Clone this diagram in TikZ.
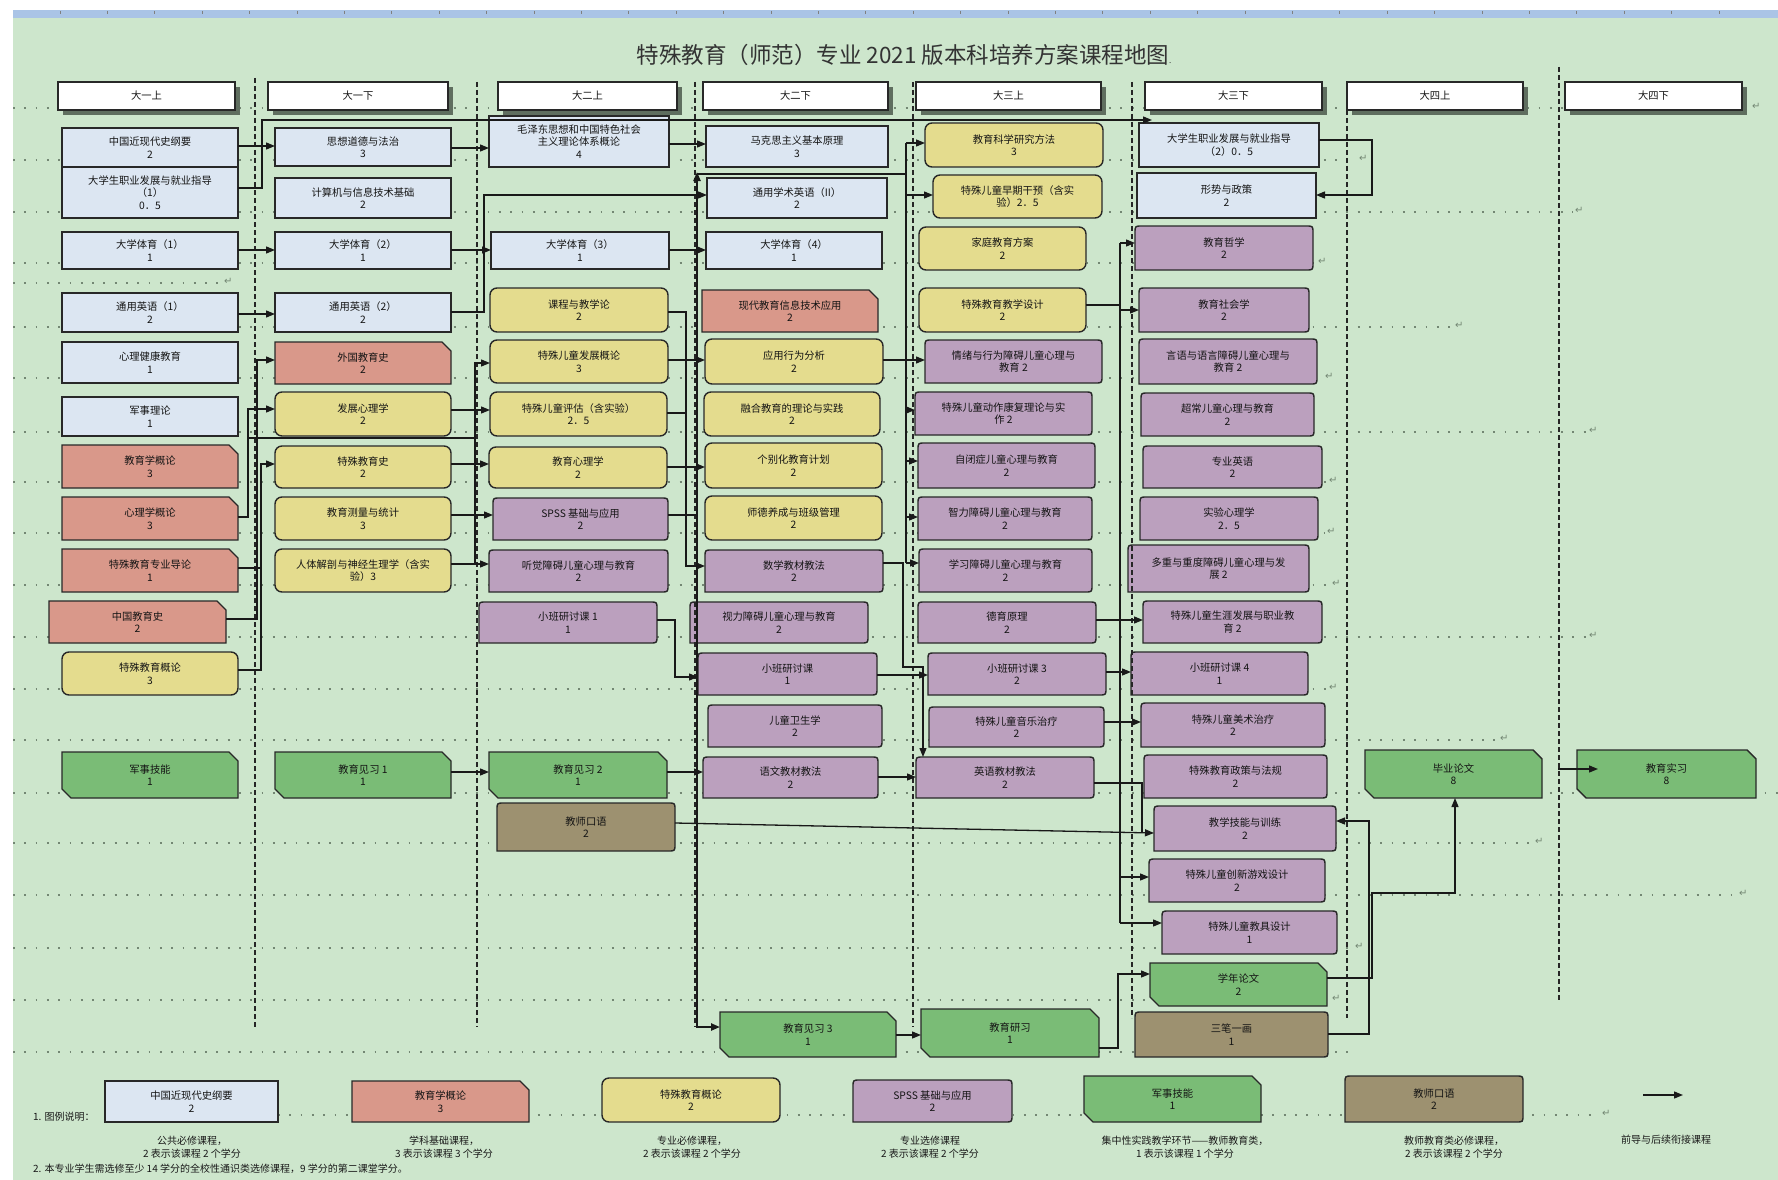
\documentclass[tikz,border=0pt]{standalone}
\usepackage{fontspec}
\setmainfont{Noto Sans CJK SC}
\newfontfamily\djv{DejaVu Sans}
\usetikzlibrary{arrows.meta}
\definecolor{bgc}{RGB}{205,230,204}
\definecolor{rulerc}{RGB}{170,196,230}
\definecolor{cblue}{RGB}{220,230,242}
\definecolor{cred}{RGB}{217,152,138}
\definecolor{cyellow}{RGB}{228,220,142}
\definecolor{cpurple}{RGB}{187,160,190}
\definecolor{cgreen}{RGB}{122,188,118}
\definecolor{cbrown}{RGB}{157,145,112}
\definecolor{edgec}{RGB}{40,40,40}
\definecolor{dotc}{RGB}{115,135,115}
\definecolor{shc}{RGB}{95,110,95}
\tikzset{
 bx/.style={draw=edgec, line width=1.4pt},
 txt/.style={inner sep=1pt, outer sep=0pt, align=center, font=\fontsize{10.3}{12.5}\selectfont, text=black!92},
 arr/.style={draw=black!90, line width=1.3pt, -{Triangle[length=9pt,width=7pt]}},
 ln/.style={draw=black!90, line width=1.3pt},
 dotl/.style={draw=dotc, line width=1.8pt, dash pattern=on 1.8pt off 9.5pt},
 sepl/.style={draw=black!85, line width=1.8pt, dash pattern=on 5pt off 3pt},
 pm/.style={font=\djv\fontsize{10}{10}\selectfont, text=dotc, inner sep=0pt},
 captxt/.style={font=\fontsize{10}{13}\selectfont, align=center, inner sep=0pt, text=black!90},
}
\newcommand\shpblue[4]{\draw[bx,fill=cblue] (#1,#2) rectangle (#3,#4);}
\newcommand\shpred[4]{\draw[bx,fill=cred] (#1,#2) -- ({#3-9},#2) -- (#3,{#2+9}) -- (#3,#4) -- (#1,#4) -- cycle;}
\newcommand\shpgreen[4]{\draw[bx,fill=cgreen] (#1,#2) -- ({#3-9},#2) -- (#3,{#2+9}) -- (#3,#4) -- ({#1+9},#4) -- (#1,{#4-9}) -- cycle;}
\newcommand\shpyellow[4]{\draw[bx,fill=cyellow,rounded corners=7pt] (#1,#2) rectangle (#3,#4);}
\newcommand\shppurple[4]{\draw[bx,fill=cpurple] (#1,#4) -- (#1,{#2+7}) .. controls (#1,#2) .. ({#1+7},#2) -- ({#3-7},#2) .. controls (#3,#2) .. (#3,{#2+7}) -- (#3,{#4-7}) .. controls (#3,#4) .. ({#3-7},#4) -- cycle;}
\newcommand\shpbrown[4]{\draw[bx,fill=cbrown] (#1,#4) -- (#1,{#2+7}) .. controls (#1,#2) .. ({#1+7},#2) -- ({#3-7},#2) .. controls (#3,#2) .. (#3,{#2+7}) -- (#3,{#4-7}) .. controls (#3,#4) .. ({#3-7},#4) -- cycle;}
\newcommand\course[7]{\csname shp#1\endcsname{#3}{#4}{#5}{#6}\node[txt,minimum width={#5pt-#3pt},minimum height={#6pt-#4pt}] (#2) at ({(#3+#5)/2},{(#4+#6)/2}) {#7};}
\newcommand\header[4]{\fill[shc] ({#2+5},87) rectangle ({#3+5},115); \draw[bx,fill=white] (#2,82) rectangle (#3,110); \node[txt] (#1) at ({(#2+#3)/2},96) {#4};}
\newcommand\dotrow[2]{\draw[dotl] (13,#1) -- (#2,#1); \node[pm, anchor=west] at ({#2+2},{#1-2}) {↵};}
\begin{document}
\begin{tikzpicture}[x=1pt,y=-1pt]
\useasboundingbox (0,0) rectangle (1778,1180);
\fill[white] (0,0) rectangle (1778,1180);
\fill[rulerc] (13,10) rectangle (1778,18);
\foreach \i in {0,...,35} \draw[black!50, line width=0.7pt] ({60+47.4*\i},11) -- ({60+47.4*\i},14.5);
\fill[bgc] (13,18) rectangle (1778,1180);

% title
\node[font=\fontsize{22.5}{26}\selectfont, text=black!80] (title) at (904,55) {特殊教育（师范）专业 2021 版本科培养方案课程地图{\fontsize{8}{8}\selectfont .}};

% dotted rows
\dotrow{108}{1750}
\dotrow{160}{1357}
\dotrow{212}{1573}
\dotrow{263}{1316}
\dotrow{283}{222}
\dotrow{327}{1453}
\dotrow{378}{1323}
\dotrow{432}{1587}
\dotrow{482}{1327}
\dotrow{533}{1325}
\dotrow{585}{1330}
\dotrow{637}{1587}
\dotrow{689}{1327}
\dotrow{740}{1498}
\draw[dotl] (13,793) -- (1778,793);
\dotrow{843}{1533}
\dotrow{895}{1737}
\dotrow{948}{1353}
\dotrow{1000}{1330}
\draw[dotl] (13,1052) -- (1350,1052);
\draw[dotl] (278,1115) -- (1600,1115);
\node[pm, anchor=west] at (1602,1113) {↵};

% headers
\header{h1}{58}{235}{大一上}
\header{h2}{268}{448}{大一下}
\header{h3}{498}{677}{大二上}
\header{h4}{703}{888}{大二下}
\header{h5}{916}{1101}{大三上}
\header{h6}{1145}{1322}{大三下}
\header{h7}{1347}{1523}{大四上}
\header{h8}{1565}{1742}{大四下}

% column 1
\course{blue}{c1a}{62}{128}{238}{167}{中国近现代史纲要\\2}
\course{blue}{c1b}{62}{167}{238}{218}{大学生职业发展与就业指导\\（1）\\0．5}
\course{blue}{c1c}{62}{232}{238}{269}{大学体育（1）\\1}
\course{blue}{c1d}{62}{293}{238}{332}{通用英语（1）\\2}
\course{blue}{c1e}{62}{342}{238}{383}{心理健康教育\\1}
\course{blue}{c1f}{62}{397}{238}{436}{军事理论\\1}
\course{red}{c1g}{62}{445}{238}{488}{教育学概论\\3}
\course{red}{c1h}{62}{497}{238}{540}{心理学概论\\3}
\course{red}{c1i}{62}{549}{238}{592}{特殊教育专业导论\\1}
\course{red}{c1j}{49}{601}{226}{643}{中国教育史\\2}
\course{yellow}{c1k}{62}{652}{238}{695}{特殊教育概论\\3}
\course{green}{c1l}{62}{752}{238}{798}{军事技能\\1}

% column 2
\course{blue}{c2a}{275}{128}{451}{166}{思想道德与法治\\3}
\course{blue}{c2b}{275}{178}{451}{218}{计算机与信息技术基础\\2}
\course{blue}{c2c}{275}{232}{451}{269}{大学体育（2）\\1}
\course{blue}{c2d}{275}{293}{451}{332}{通用英语（2）\\2}
\course{red}{c2e}{275}{342}{451}{384}{外国教育史\\2}
\course{yellow}{c2f}{275}{392}{451}{436}{发展心理学\\2}
\course{yellow}{c2g}{275}{446}{451}{488}{特殊教育史\\2}
\course{yellow}{c2h}{275}{497}{451}{540}{教育测量与统计\\3}
\course{yellow}{c2i}{275}{549}{451}{592}{人体解剖与神经生理学（含实\\验）3}
\course{green}{c2j}{275}{752}{451}{798}{教育见习 1\\1}

% column 3
\course{blue}{c3a}{489}{116}{669}{167}{毛泽东思想和中国特色社会\\主义理论体系概论\\4}
\course{blue}{c3b}{491}{232}{669}{269}{大学体育（3）\\1}
\course{yellow}{c3c}{490}{288}{668}{332}{课程与教学论\\2}
\course{yellow}{c3d}{490}{340}{668}{383}{特殊儿童发展概论\\3}
\course{yellow}{c3e}{490}{392}{667}{436}{特殊儿童评估（含实验）\\2．5}
\course{yellow}{c3f}{489}{447}{667}{488}{教育心理学\\2}
\course{purple}{c3g}{493}{498}{668}{540}{SPSS 基础与应用\\2}
\course{purple}{c3h}{489}{550}{668}{592}{听觉障碍儿童心理与教育\\2}
\course{purple}{c3i}{479}{602}{657}{643}{小班研讨课 1\\1}
\course{green}{c3j}{489}{752}{667}{798}{教育见习 2\\1}
\course{brown}{c3k}{497}{803}{675}{851}{教师口语\\2}

% column 4
\course{blue}{c4a}{706}{126}{888}{167}{马克思主义基本原理\\3}
\course{blue}{c4b}{707}{178}{887}{218}{通用学术英语（II）\\2}
\course{blue}{c4c}{706}{232}{882}{269}{大学体育（4）\\1}
\course{red}{c4d}{702}{290}{878}{332}{现代教育信息技术应用\\2}
\course{yellow}{c4e}{705}{339}{883}{384}{应用行为分析\\2}
\course{yellow}{c4f}{704}{392}{880}{436}{融合教育的理论与实践\\2}
\course{yellow}{c4g}{705}{443}{882}{488}{个别化教育计划\\2}
\course{yellow}{c4h}{705}{496}{882}{540}{师德养成与班级管理\\2}
\course{purple}{c4i}{705}{550}{883}{592}{数学教材教法\\2}
\course{purple}{c4j}{690}{602}{868}{643}{视力障碍儿童心理与教育\\2}
\course{purple}{c4k}{698}{653}{877}{695}{小班研讨课\\1}
\course{purple}{c4l}{708}{705}{882}{747}{儿童卫生学\\2}
\course{purple}{c4m}{703}{757}{878}{798}{语文教材教法\\2}
\course{green}{c4n}{720}{1012}{896}{1057}{教育见习 3\\1}

% column 5
\course{yellow}{c5a}{925}{123}{1103}{167}{教育科学研究方法\\3}
\course{yellow}{c5b}{933}{175}{1102}{218}{特殊儿童早期干预（含实\\验）2．5}
\course{yellow}{c5c}{919}{227}{1086}{270}{家庭教育方案\\2}
\course{yellow}{c5d}{919}{288}{1086}{332}{特殊教育教学设计\\2}
\course{purple}{c5e}{925}{340}{1102}{383}{情绪与行为障碍儿童心理与\\教育 2}
\course{purple}{c5f}{915}{392}{1092}{435}{特殊儿童动作康复理论与实\\作 2}
\course{purple}{c5g}{918}{443}{1095}{488}{自闭症儿童心理与教育\\2}
\course{purple}{c5h}{918}{497}{1092}{540}{智力障碍儿童心理与教育\\2}
\course{purple}{c5i}{919}{549}{1092}{592}{学习障碍儿童心理与教育\\2}
\course{purple}{c5j}{918}{602}{1096}{643}{德育原理\\2}
\course{purple}{c5k}{928}{653}{1106}{695}{小班研讨课 3\\2}
\course{purple}{c5l}{929}{707}{1104}{747}{特殊儿童音乐治疗\\2}
\course{purple}{c5m}{916}{757}{1094}{798}{英语教材教法\\2}
\course{green}{c5n}{921}{1009}{1099}{1057}{教育研习\\1}

% column 6
\course{blue}{c6a}{1139}{123}{1319}{167}{大学生职业发展与就业指导\\（2）0．5}
\course{blue}{c6b}{1137}{173}{1316}{218}{形势与政策\\2}
\course{purple}{c6c}{1135}{226}{1313}{270}{教育哲学\\2}
\course{purple}{c6d}{1139}{288}{1309}{332}{教育社会学\\2}
\course{purple}{c6e}{1139}{339}{1317}{384}{言语与语言障碍儿童心理与\\教育 2}
\course{purple}{c6f}{1141}{393}{1314}{436}{超常儿童心理与教育\\2}
\course{purple}{c6g}{1143}{446}{1322}{488}{专业英语\\2}
\course{purple}{c6h}{1140}{497}{1318}{540}{实验心理学\\2．5}
\course{purple}{c6i}{1128}{545}{1309}{592}{多重与重度障碍儿童心理与发\\展 2}
\course{purple}{c6j}{1143}{601}{1322}{643}{特殊儿童生涯发展与职业教\\育 2}
\course{purple}{c6k}{1131}{652}{1308}{695}{小班研讨课 4\\1}
\course{purple}{c6l}{1141}{703}{1325}{747}{特殊儿童美术治疗\\2}
\course{purple}{c6m}{1144}{755}{1327}{798}{特殊教育政策与法规\\2}
\course{purple}{c6n}{1154}{806}{1336}{851}{教学技能与训练\\2}
\course{purple}{c6o}{1149}{859}{1325}{902}{特殊儿童创新游戏设计\\2}
\course{purple}{c6p}{1162}{911}{1337}{954}{特殊儿童教具设计\\1}
\course{green}{c6q}{1150}{963}{1327}{1006}{学年论文\\2}
\course{brown}{c6r}{1135}{1012}{1328}{1057}{三笔一画\\1}

% columns 7, 8
\course{green}{c7a}{1365}{750}{1542}{798}{毕业论文\\8}
\course{green}{c8a}{1577}{750}{1756}{798}{教育实习\\8}

% separators
\draw[sepl] (255,78) -- (255,1027);
\draw[sepl] (477,82) -- (477,1027);
\draw[sepl] (695,82) -- (695,1027);
\draw[sepl] (913,82) -- (913,1027);
\draw[sepl] (1132,82) -- (1132,1018);
\draw[sepl] (1347,110) -- (1347,1018);
\draw[sepl] (1559,67) -- (1559,1002);

% connectors col1 -> col2
\coordinate (c6ain) at (1152,120);
\draw[arr] (c1a.east |- 0,146) -- (c2a.west |- 0,146);
\draw[arr] (c1b.east |- 0,188) -- (262,188) -- (262,120) -- (c6ain);
\draw[arr] (c1c.east |- 0,250) -- (c2c.west |- 0,250);
\draw[arr] (c1d.east |- 0,314) -- (c2d.west |- 0,314);
\draw[arr] (c1j.east |- 0,619) -- (257,619) -- (257,360) -- (c2e.west |- 0,360);
\draw[arr] (c1i.east |- 0,568) -- (261,568) -- (261,464) -- (c2g.west |- 0,464);
\draw[ln] (c1k.east |- 0,670) -- (261,670) -- (261,568);
\draw[arr] (c1h.east |- 0,517) -- (248,517) -- (248,409) -- (c2f.west |- 0,409);
\draw[ln] (248,438) -- (475,438);

% col2 -> col3
\draw[arr] (c2a.east |- 0,148) -- (c3a.west |- 0,148);
\draw[arr] (c2c.east |- 0,250) -- (c3b.west |- 0,250);
\draw[arr] (c2d.east |- 0,312) -- (484,312) -- (484,195) -- (c4b.west |- 0,195);
\draw[arr] (475,563) -- (475,363) -- (c3d.west |- 0,363);
\draw[arr] (c2f.east |- 0,410) -- (c3e.west |- 0,410);
\draw[arr] (c2g.east |- 0,464) -- (c3f.west |- 0,464);
\draw[arr] (c2h.east |- 0,515) -- (c3g.west |- 0,515);
\draw[arr] (c2i.east |- 0,564) -- (c3h.west |- 0,564);
\draw[arr] (c2j.east |- 0,772) -- (c3j.west |- 0,772);

% col3 -> col4
\draw[arr] (c3a.east |- 0,144) -- (c4a.west |- 0,144);
\draw[arr] (c3b.east |- 0,250) -- (c4c.west |- 0,250);
\draw[arr] (c3c.east |- 0,312) -- (686,312) -- (686,566) -- (c4i.west |- 0,566);
\draw[ln] (c3e.east |- 0,413) -- (686,413);
\draw[arr] (c3d.east |- 0,360) -- (c4e.west |- 0,360);
\draw[arr] (c3f.east |- 0,467) -- (c4g.west |- 0,467);
\draw[ln] (c3g.east |- 0,515) -- (697,515);
\draw[arr] (c3i.east |- 0,620) -- (675,620) -- (675,677) -- (c4k.west |- 0,677);
\draw[arr] (c3j.east |- 0,772) -- (c4m.west |- 0,772);
\draw[arr, line width=2.2pt] (697,772) -- (697,1027) -- (c4n.west |- 0,1027);
\draw[arr, line width=2.2pt] (697,772) -- (697,172);
\draw[ln] (697,174) -- (906,174);
\draw[arr] (c3k.east |- 0,823) -- (c6n.west |- 0,833);

% col4 -> col5
\draw[ln] (906,143) -- (906,563);
\draw[arr] (906,143) -- (c5a.west |- 0,143);
\draw[arr] (906,195) -- (c5b.west |- 0,195);
\draw[arr] (906,410) -- (c5f.west |- 0,410);
\draw[arr] (906,461) -- (c5g.west |- 0,461);
\draw[arr] (906,517) -- (c5h.west |- 0,517);
\draw[arr] (906,563) -- (c5i.west |- 0,563);
\draw[arr] (c4e.east |- 0,360) -- (c5e.west |- 0,360);
\draw[arr] (c4i.east |- 0,563) -- (903,563) -- (903,667) -- (923,667) -- (923,0 |- c5m.north);
\draw[arr] (c4k.east |- 0,675) -- (c5k.west |- 0,675);
\draw[arr] (c4m.east |- 0,777) -- (c5m.west |- 0,777);
\draw[arr] (c4n.east |- 0,1035) -- (c5n.west |- 0,1035);

% col5 -> col6
\draw[ln] (c5d.east |- 0,305) -- (1120,305);
\draw[ln] (1120,243) -- (1120,923);
\draw[arr] (1120,243) -- (c6c.west |- 0,243);
\draw[arr] (1120,310) -- (c6d.west |- 0,310);
\draw[arr] (1120,877) -- (c6o.west |- 0,877);
\draw[arr] (1120,923) -- (c6p.west |- 0,923);
\draw[arr] (c5j.east |- 0,620) -- (c6j.west |- 0,620);
\draw[arr] (c5k.east |- 0,672) -- (c6k.west |- 0,672);
\draw[arr] (c5l.east |- 0,722) -- (c6l.west |- 0,722);
\draw[ln] (c5m.east |- 0,783) -- (1142,783) -- (1142,833);
\draw[arr] (c5n.east |- 0,1048) -- (1118,1048) -- (1118,974) -- (c6q.west |- 0,974);
\draw[arr] (c6a.east |- 0,140) -- (1372,140) -- (1372,195) -- (c6b.east |- 0,195);
\draw[arr] (c6r.east |- 0,1034) -- (1369,1034) -- (1369,821) -- (c6n.east |- 0,821);
\draw[arr] (c6q.east |- 0,978) -- (1372,978) -- (1372,893) -- (1455,893) -- (1455,0 |- c7a.south);
\draw[arr, shorten <=16pt, shorten >=-21pt] (c7a.east |- 0,769) -- (c8a.west |- 0,769);

% legend
\course{blue}{l1}{105}{1081}{278}{1122}{中国近现代史纲要\\2}
\course{red}{l2}{352}{1081}{529}{1122}{教育学概论\\3}
\course{yellow}{l3}{602}{1078}{780}{1122}{特殊教育概论\\2}
\course{purple}{l4}{853}{1080}{1012}{1122}{SPSS 基础与应用\\2}
\course{green}{l5}{1084}{1076}{1261}{1122}{军事技能\\1}
\course{brown}{l6}{1345}{1076}{1523}{1122}{教师口语\\2}
\coordinate (la1) at (1643,1095);
\coordinate (la2) at (1683,1095);
\draw[arr] (la1) -- (la2);
\node[captxt, anchor=west] (lg) at (33,1117) {1. 图例说明：};
\node[captxt] (t1) at (192,1147) {公共必修课程，\\2 表示该课程 2 个学分};
\node[captxt] (t2) at (444,1147) {学科基础课程，\\3 表示该课程 3 个学分};
\node[captxt] (t3) at (692,1147) {专业必修课程，\\2 表示该课程 2 个学分};
\node[captxt] (t4) at (930,1147) {专业选修课程\\2 表示该课程 2 个学分};
\node[captxt] (t5) at (1185,1147) {集中性实践教学环节——教师教育类，\\1 表示该课程 1 个学分};
\node[captxt] (t6) at (1454,1147) {教师教育类必修课程，\\2 表示该课程 2 个学分};
\node[captxt] (t7) at (1666,1140) {前导与后续衔接课程};
\node[captxt, anchor=west] (fn) at (33,1169) {2. 本专业学生需选修至少 14 学分的全校性通识类选修课程，9 学分的第二课堂学分。};
\end{tikzpicture}
\end{document}
